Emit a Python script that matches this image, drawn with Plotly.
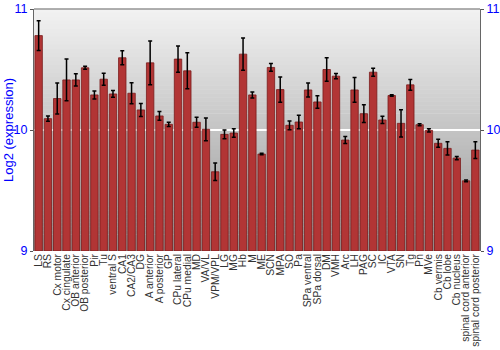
import plotly.graph_objects as go

regions = ["LS", "RS", "Cx motor", "Cx cingulate", "OB anterior", "OB posterior", "Pir", "Tu",
           "ventral S", "CA1", "CA2/CA3", "DG", "A anterior", "A posterior", "GP", "CPu lateral",
           "CPu medial", "MD", "VA/VL", "VPM/VPL", "LG", "MG", "Hb", "M", "ME", "SCN", "MPA", "SO",
           "Pa", "SPa ventral", "SPa dorsal", "DM", "VMH", "Arc", "LH", "PAG", "SC", "IC", "VTA",
           "SN", "Tg", "Pn", "MVe", "Cb vermis", "Cb lobe", "Cb nucleus", "spinal cord anterior",
           "spinal cord posterior"]

expression = [10.78, 10.094, 10.26, 10.414, 10.414, 10.514, 10.29, 10.42,
              10.298, 10.597, 10.304, 10.166, 10.555, 10.116, 10.047, 10.586,
              10.489, 10.064, 10.006, 9.655, 9.964, 9.975, 10.627, 10.29, 9.801, 10.517, 10.334, 10.039,
              10.066, 10.331, 10.232, 10.5, 10.445, 9.917, 10.331, 10.135, 10.478, 10.083, 10.285,
              10.055, 10.373, 10.044, 9.997, 9.89, 9.848, 9.768, 9.58,
              9.834]

error = [0.123, 0.022, 0.128, 0.173, 0.05, 0.012, 0.033, 0.05,
         0.028, 0.058, 0.087, 0.054, 0.18, 0.036, 0.018, 0.108,
         0.149, 0.041, 0.094, 0.073, 0.036, 0.035, 0.133, 0.025, 0.006, 0.032, 0.105, 0.036,
         0.055, 0.058, 0.052, 0.098, 0.022, 0.029, 0.102, 0.073, 0.033, 0.03, 0.006,
         0.113, 0.044, 0.008, 0.014, 0.033, 0.055, 0.014, 0.007,
         0.069]

y_ticks = [9, 10, 11]
y_range = [9, 11]

fig = go.Figure()
fig.add_trace(go.Bar(
    x=regions, y=[v - y_range[0] for v in expression], base=y_range[0],
    marker=dict(color="#b23535", line=dict(color="#7a1c1c", width=0.8)),
    error_y=dict(type="data", array=error, color="black", thickness=1.5, width=2),
    showlegend=False, hoverinfo="x+y",
))
# invisible trace for right axis
fig.add_trace(go.Scatter(x=[regions[0]], y=[y_range[0]], yaxis="y2", mode="markers",
                         marker=dict(opacity=0), showlegend=False, hoverinfo="skip"))

# gradient background
n = 60
top = (242, 242, 242)
bot = (150, 150, 150)
for i in range(n):
    t = i / (n - 1)
    c = tuple(round(top[k] + (bot[k] - top[k]) * t) for k in range(3))
    fig.add_shape(type="rect", xref="paper", yref="paper", x0=0, x1=1,
                  y0=1 - (i + 1) / n, y1=1 - i / n + 0.002,
                  fillcolor="rgb(%d,%d,%d)" % c, line=dict(width=0), layer="below")

axis_common = dict(range=y_range, tickvals=y_ticks, ticks="outside", ticklen=3,
                   tickcolor="#555", tickfont=dict(color="blue", size=12.5,
                                                   family="Liberation Sans, Arial, sans-serif"))

fig.update_layout(
    width=500, height=350,
    margin=dict(l=34, r=20, t=9, b=99, autoexpand=False),
    paper_bgcolor="white", plot_bgcolor="rgba(0,0,0,0)",
    bargap=0.2,
    font=dict(family="Liberation Sans, Arial, sans-serif"),
    xaxis=dict(tickangle=-90, tickfont=dict(size=10.3, color="#333"), showgrid=False,
               showline=False, ticks="", automargin=False,
               tickmode="array", tickvals=regions, ticktext=regions,
               range=[-0.5, len(regions) - 0.5]),
    yaxis=dict(**axis_common, showgrid=True, gridcolor="white", gridwidth=1.5,
               zeroline=False, showline=True, linecolor="#666", linewidth=1,
               mirror=False, automargin=False),
    yaxis2=dict(**axis_common, overlaying="y", side="right", showgrid=False,
                zeroline=False, showline=True, linecolor="#666", linewidth=1,
                automargin=False),
    shapes=list(fig.layout.shapes) + [dict(type="line", xref="paper", yref="paper",
                                           x0=0, x1=1, y0=1, y1=1,
                                           line=dict(color="#666", width=1))],
    annotations=[dict(text="Log2 (expression)", xref="paper", yref="paper", x=0, y=0.5,
                      xshift=-26, textangle=-90, showarrow=False,
                      font=dict(color="blue", size=13), xanchor="center", yanchor="middle")],
)

fig.write_html("out.html")
